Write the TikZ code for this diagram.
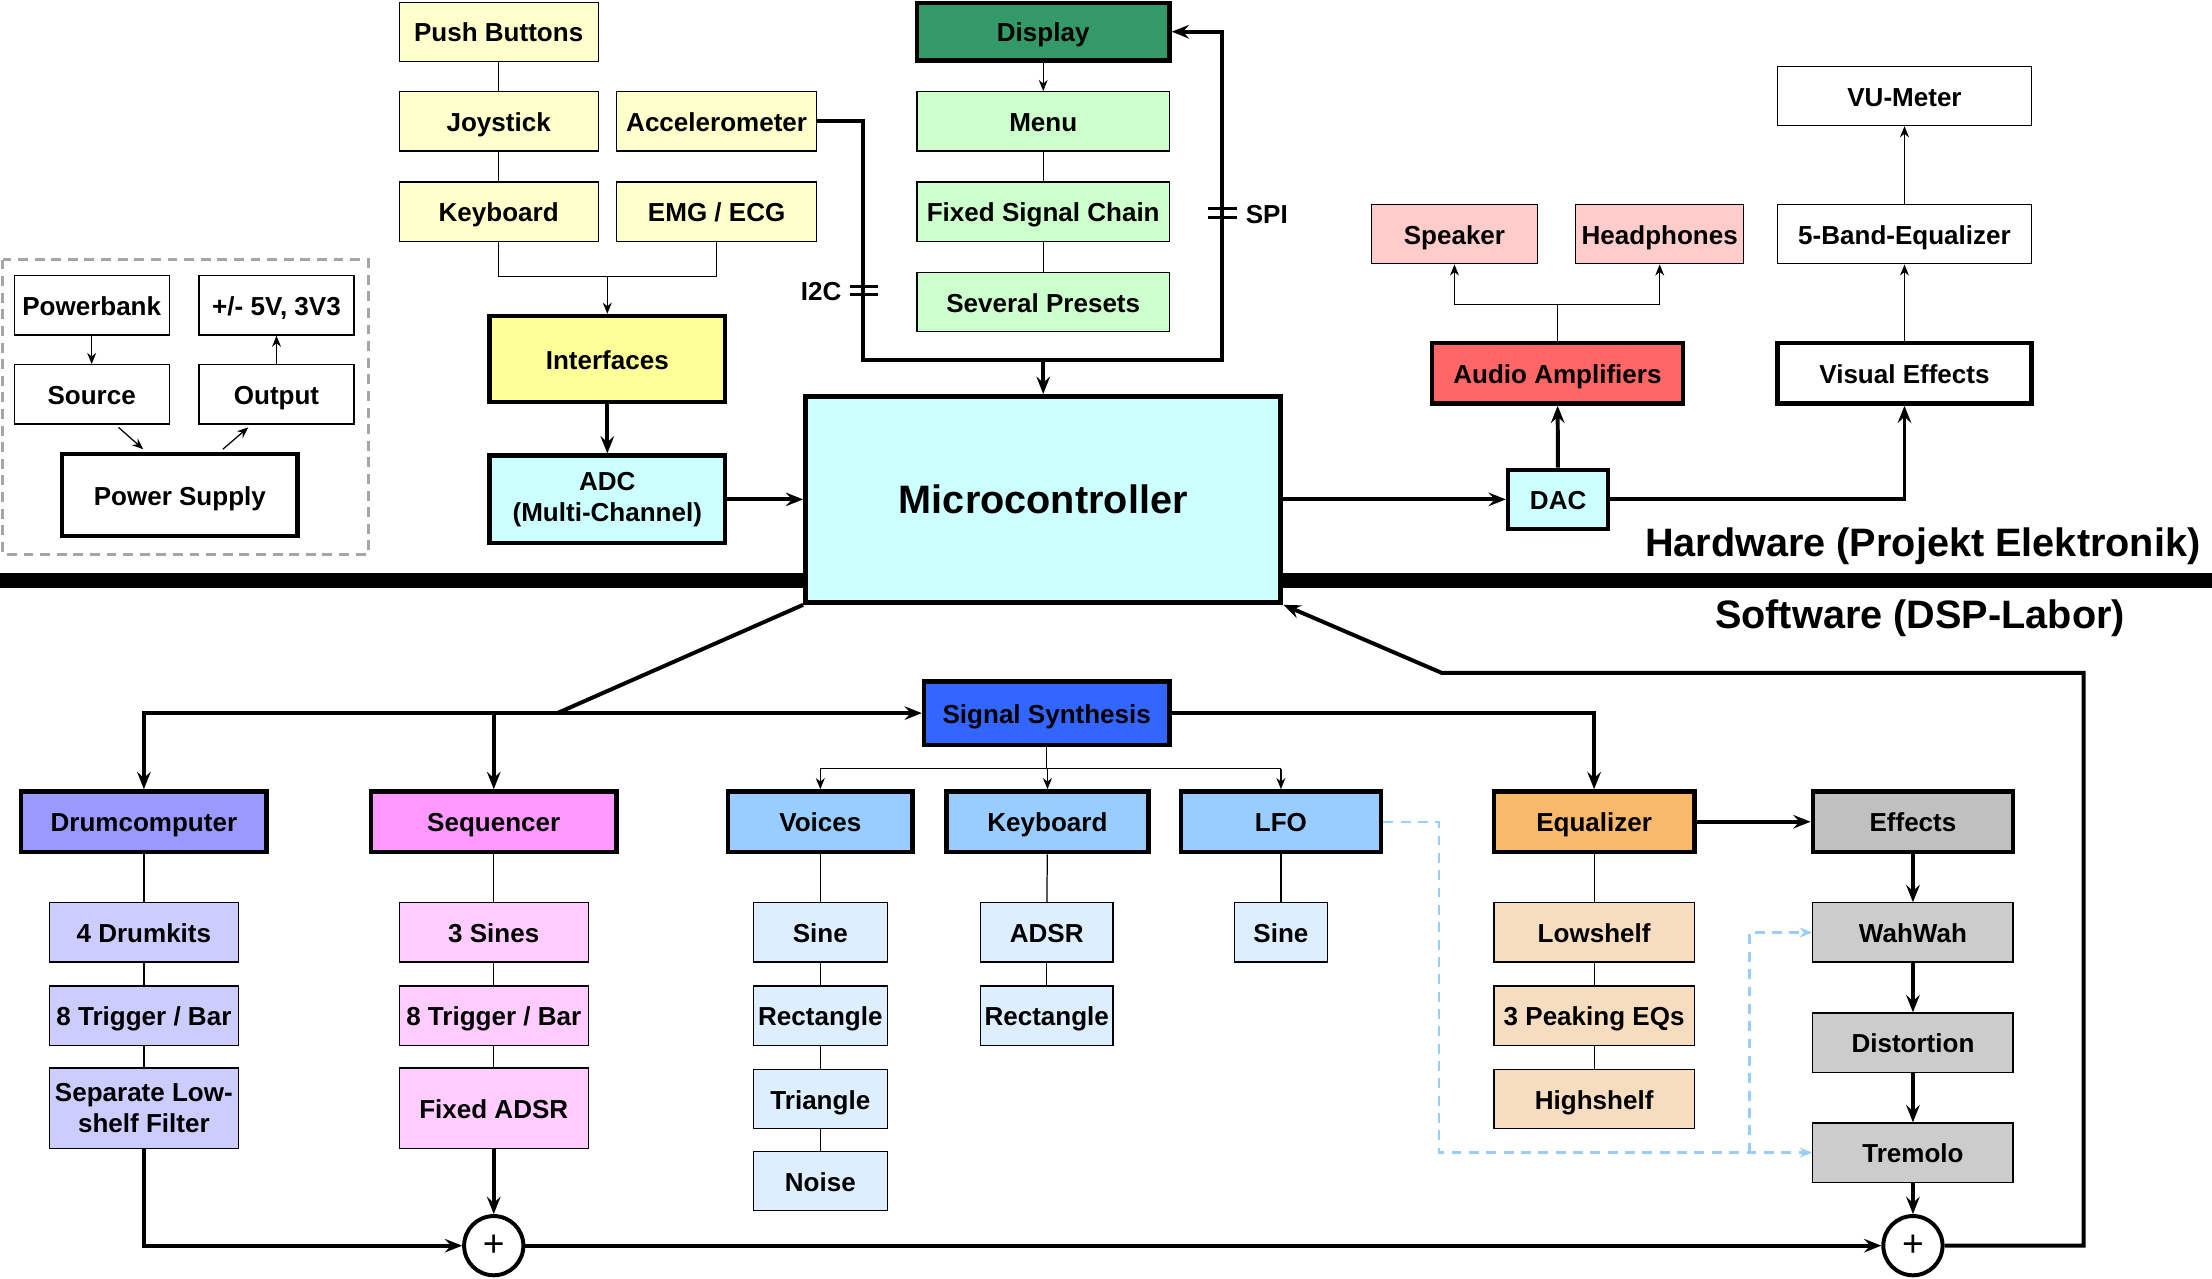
\documentclass[tikz,border=0pt]{standalone}
\usepackage{fontspec}
\setmainfont{Liberation Sans}
\usetikzlibrary{arrows.meta,positioning,calc,shapes}

\definecolor{inyellow}{HTML}{FFFFCC}
\definecolor{ifyellow}{HTML}{FFFF99}
\definecolor{chipcyan}{HTML}{CCFFFF}
\definecolor{dispgreen}{HTML}{339966}
\definecolor{menugreen}{HTML}{CCFFCC}
\definecolor{outpink}{HTML}{FFCCCC}
\definecolor{ampred}{HTML}{FF6666}
\definecolor{synblue}{HTML}{3366FF}
\definecolor{drumblue}{HTML}{9999FF}
\definecolor{drumsub}{HTML}{CCCCFF}
\definecolor{seqpink}{HTML}{FF99FF}
\definecolor{seqsub}{HTML}{FFCCFF}
\definecolor{voiblue}{HTML}{99CCFF}
\definecolor{voisub}{HTML}{DDEEFF}
\definecolor{eqorange}{HTML}{F9B96B}
\definecolor{eqsub}{HTML}{F7DDC0}
\definecolor{fxgray}{HTML}{C0C0C0}
\definecolor{fxsub}{HTML}{CCCCCC}

\tikzset{
  box/.style={draw, line width=0.5pt, inner sep=0pt, align=center,
    minimum height=0.84cm, text height=3.2mm, text depth=0.3mm,
    font=\bfseries\fontsize{10.5}{12.6}\selectfont},
  twoline/.style={text height=, text depth=},
  mainbox/.style={box, line width=1.8pt},
  bigtext/.style={font=\bfseries\fontsize{16}{19}\selectfont},
  sumnode/.style={circle, draw, line width=1.6pt, minimum size=0.84cm, inner sep=0pt,
    font=\fontsize{15}{15}\selectfont},
  wire/.style={line width=0.5pt, >={Stealth[length=4.5pt,width=3.6pt]}},
  bus/.style={line width=1.6pt, >={Stealth[length=7pt,width=5.5pt,inset=2.5pt]}},
  lfodash/.style={voiblue, line width=1pt, dash pattern=on 4pt off 3pt,
    >={Stealth[length=5pt,width=4pt]}},
}

\begin{document}
\begin{tikzpicture}[x=0.02cm, y=-0.02cm]
\useasboundingbox (0,0) rectangle (1568,906);

% Hardware / Software separator
\fill (0,406) rectangle (1568,417);
\node[bigtext, anchor=east] (hwlabel) at (1566,387) {Hardware (Projekt Elektronik)};
\node[bigtext] (swlabel) at (1361,438) {Software (DSP-Labor)};

% Power supply
\draw[gray!70, line width=1.1pt, dash pattern=on 4pt off 2.7pt] (2,184) rectangle (261,393);
\node[box, minimum width=2.2cm] (pbank) at (65,216.5) {Powerbank};
\node[box, minimum width=2.2cm] (pvolt) at (196,216.5) {+/- 5V, 3V3};
\node[box, minimum width=2.2cm] (psrc) at (65,279.5) {Source};
\node[box, minimum width=2.2cm] (pout) at (196,279.5) {Output};
\node[mainbox, minimum width=3.34cm, minimum height=1.16cm] (psu) at (127.5,351) {Power Supply};
\draw[wire,->] (pbank) -- (psrc);
\draw[wire,->] (pout) -- (pvolt);
\draw[wire,->] ($(psrc.south)+(19,2)$) -- ($(psu.north)+(-26,-2)$);
\draw[wire,->] ($(psu.north)+(30.5,-2)$) -- ($(pout.south)+(-20,2)$);

% Inputs
\node[box, fill=inyellow, minimum width=2.82cm] (btn) at (353.5,22.5) {Push Buttons};
\node[box, fill=inyellow, minimum width=2.82cm] (joy) at (353.5,86) {Joystick};
\node[box, fill=inyellow, minimum width=2.84cm] (acc) at (508,86) {Accelerometer};
\node[box, fill=inyellow, minimum width=2.82cm] (kbd) at (353.5,150) {Keyboard};
\node[box, fill=inyellow, minimum width=2.84cm] (emg) at (508,150) {EMG / ECG};
\node[mainbox, fill=ifyellow, minimum width=3.34cm, minimum height=1.22cm] (intf) at (430.5,254.5) {Interfaces};
\node[mainbox, twoline, fill=chipcyan, minimum width=3.34cm, minimum height=1.24cm] (adc) at (430.5,354) {ADC\\(Multi-Channel)};
\coordinate (injoin) at (430.5,196);
\draw[wire] (btn) -- (joy);
\draw[wire] (joy) -- (kbd);
\draw[wire] (kbd.south) |- (injoin) -| (emg.south);
\draw[wire,->] (injoin) -- (intf.north);
\draw[bus,->] (intf) -- (adc);

% Microcontroller
\node[mainbox, twoline, line width=2pt, fill=chipcyan, minimum width=6.74cm, minimum height=2.92cm,
  font=\bfseries\fontsize{16}{19}\selectfont] (mcu) at (739.5,354) {Microcontroller};
\draw[bus,->] (adc) -- (mcu);

% Display
\node[mainbox, fill=dispgreen, minimum width=3.58cm, minimum height=0.82cm] (disp) at (739.5,22.5) {Display};
\node[box, fill=menugreen, minimum width=3.58cm] (menu) at (739.5,86) {Menu};
\node[box, fill=menugreen, minimum width=3.58cm] (fsc) at (739.5,150) {Fixed Signal Chain};
\node[box, fill=menugreen, minimum width=3.58cm] (pres) at (739.5,214) {Several Presets};
\draw[wire,->] (disp) -- (menu);
\draw[wire] (menu) -- (fsc);
\draw[wire] (fsc) -- (pres);

% I2C / SPI bus
\coordinate (busL) at (612,255);
\coordinate (busR) at (866,255);
\coordinate (busM) at (739.5,255);
\draw[bus,->] (acc.east) -| (busL) -- (busR) |- (disp.east);
\draw[bus,->] (busM) -- (mcu.north);
\draw[line width=1.3pt] (602.5,203) -- (622.5,203) (602.5,209) -- (622.5,209);
\node[box, draw=none] (i2c) at (582,206) {I2C};
\draw[line width=1.3pt] (856.5,148) -- (876.5,148) (856.5,154) -- (876.5,154);
\node[box, draw=none] (spi) at (898,151) {SPI};

% Outputs
\node[box, fill=outpink, minimum width=2.36cm] (spk) at (1031,166) {Speaker};
\node[box, fill=outpink, minimum width=2.38cm] (hph) at (1176.5,166) {Headphones};
\node[mainbox, fill=ampred, minimum width=3.56cm, minimum height=0.86cm] (amp) at (1104,264.5) {Audio Amplifiers};
\node[mainbox, fill=chipcyan, minimum width=1.42cm] (dac) at (1104.5,354) {DAC};
\node[mainbox, fill=white, minimum width=3.6cm, minimum height=0.86cm] (vis) at (1350,264.5) {Visual Effects};
\node[box, minimum width=3.6cm] (beq) at (1350,166) {5-Band-Equalizer};
\node[box, minimum width=3.6cm] (vu) at (1350,68) {VU-Meter};
\coordinate (ampsplit) at (1104,216);
\draw[bus,->] (mcu) -- (dac);
\draw[bus,->] (dac) -- (amp);
\draw[bus,->] (dac.east) -| (vis.south);
\draw[wire] (amp.north) -- (ampsplit);
\draw[wire,->] (ampsplit) -| (spk.south);
\draw[wire,->] (ampsplit) -| (hph.south);
\draw[wire,->] (vis) -- (beq);
\draw[wire,->] (beq) -- (vu);

% Software blocks
\node[mainbox, fill=synblue, minimum width=3.48cm, minimum height=0.9cm] (synth) at (742,505.5) {Signal Synthesis};
\node[mainbox, fill=drumblue, minimum width=3.48cm, minimum height=0.86cm] (drum) at (102,582.5) {Drumcomputer};
\node[mainbox, fill=seqpink, minimum width=3.48cm, minimum height=0.86cm] (seq) at (350,582.5) {Sequencer};
\node[mainbox, fill=voiblue, minimum width=2.62cm, minimum height=0.86cm] (voi) at (581.5,582.5) {Voices};
\node[mainbox, fill=voiblue, minimum width=2.86cm, minimum height=0.86cm] (skbd) at (742.5,582.5) {Keyboard};
\node[mainbox, fill=voiblue, minimum width=2.84cm, minimum height=0.86cm] (lfo) at (908,582.5) {LFO};
\node[mainbox, fill=eqorange, minimum width=2.84cm, minimum height=0.86cm] (eq) at (1130,582.5) {Equalizer};
\node[mainbox, fill=fxgray, minimum width=2.84cm, minimum height=0.86cm] (fx) at (1356,582.5) {Effects};

% Sub blocks
\node[box, fill=drumsub, minimum width=2.68cm] (dk1) at (102,661) {4 Drumkits};
\node[box, fill=drumsub, minimum width=2.68cm] (dk2) at (102,720) {8 Trigger / Bar};
\node[box, twoline, fill=drumsub, minimum width=2.68cm, minimum height=1.14cm] (dk3) at (102,785.5) {Separate Low-\\shelf Filter};
\node[box, fill=seqsub, minimum width=2.68cm] (sq1) at (350,661) {3 Sines};
\node[box, fill=seqsub, minimum width=2.68cm] (sq2) at (350,720) {8 Trigger / Bar};
\node[box, fill=seqsub, minimum width=2.68cm, minimum height=1.14cm] (sq3) at (350,785.5) {Fixed ADSR};
\node[box, fill=voisub, minimum width=1.9cm] (v1) at (581.5,661) {Sine};
\node[box, fill=voisub, minimum width=1.9cm] (v2) at (581.5,720) {Rectangle};
\node[box, fill=voisub, minimum width=1.9cm] (v3) at (581.5,779) {Triangle};
\node[box, fill=voisub, minimum width=1.9cm] (v4) at (581.5,837) {Noise};
\node[box, fill=voisub, minimum width=1.88cm] (k1) at (742,661) {ADSR};
\node[box, fill=voisub, minimum width=1.88cm] (k2) at (742,720) {Rectangle};
\node[box, fill=voisub, minimum width=1.32cm] (l1) at (908,661) {Sine};
\node[box, fill=eqsub, minimum width=2.84cm] (e1) at (1130,661) {Lowshelf};
\node[box, fill=eqsub, minimum width=2.84cm] (e2) at (1130,720) {3 Peaking EQs};
\node[box, fill=eqsub, minimum width=2.84cm] (e3) at (1130,779) {Highshelf};
\node[box, fill=fxsub, minimum width=2.84cm] (f1) at (1356,661) {WahWah};
\node[box, fill=fxsub, minimum width=2.84cm] (f2) at (1356,739) {Distortion};
\node[box, fill=fxsub, minimum width=2.84cm] (f3) at (1356,817) {Tremolo};
\node[sumnode, fill=white] (sum1) at (350,883) {+};
\node[sumnode, fill=white] (sum2) at (1356,883) {+};

% Tree lines
\foreach \a/\b in {drum/dk1,dk1/dk2,dk2/dk3,seq/sq1,sq1/sq2,sq2/sq3,voi/v1,v1/v2,v2/v3,v3/v4,skbd/k1,k1/k2,lfo/l1,eq/e1,e1/e2,e2/e3}
  \draw[wire] (\a) -- (\b);

% Signal flow
\coordinate (swsplit) at (395,505.5);
\coordinate (synsplit) at (742,545);
\draw[bus] (mcu.south west) -- (swsplit);
\draw[bus,<->] (drum.north) |- (synth.west);
\draw[bus,->] (seq.north |- swsplit) -- (seq.north);
\draw[bus,->] (synth.east) -| (eq.north);
\draw[wire] (synth.south) -- (synsplit);
\draw[wire] (voi.north |- synsplit) -- (lfo.north |- synsplit);
\foreach \n in {voi,skbd,lfo}
  \draw[wire,->] (\n.north |- synsplit) -- (\n.north);
\draw[bus,->] (eq) -- (fx);
\draw[bus,->] (fx) -- (f1);
\draw[bus,->] (f1) -- (f2);
\draw[bus,->] (f2) -- (f3);
\draw[bus,->] (f3) -- (sum2);
\draw[bus,->] (dk3.south) |- (sum1.west);
\draw[bus,->] (sq3) -- (sum1);
\draw[bus,->] (sum1) -- (sum2);

% Feedback to microcontroller
\coordinate (fbR) at (1477,477);
\coordinate (fbL) at (1022,477);
\draw[bus,->] (sum2.east) -| (fbR) -- (fbL) -- (mcu.south east);

% LFO modulation
\coordinate (lfoB) at (1020,817);
\coordinate (lfoS) at (1240,817);
\draw[lfodash,->] (lfo.east) -| (lfoB) -- (f3.west);
\draw[lfodash,->] (lfoS) |- (f1.west);
\end{tikzpicture}
\end{document}
